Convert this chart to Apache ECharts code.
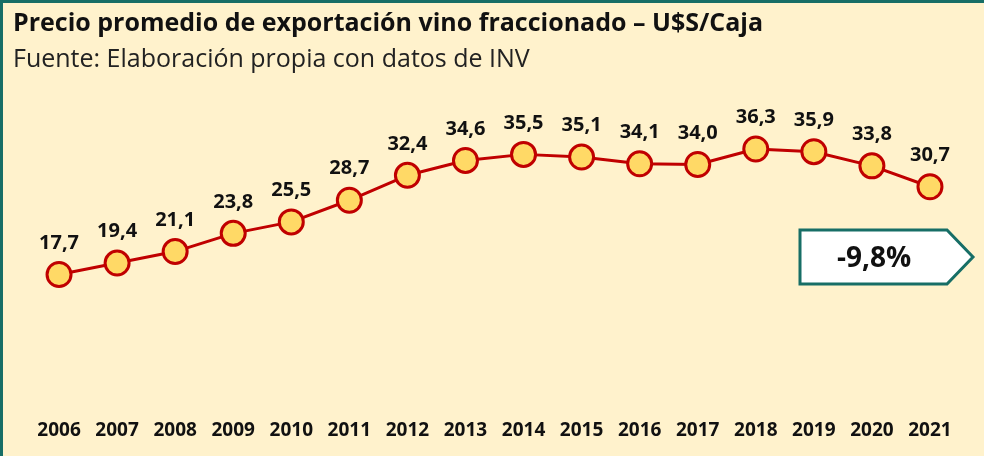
<!DOCTYPE html>
<html>
<head>
<meta charset="utf-8">
<script src="https://cdn.jsdelivr.net/npm/echarts@6/dist/echarts.min.js"></script>
<style>
	html, body { margin: 0; padding: 0; background: #fff2cc; }
	#chart { width: 981px; height: 453px; border-top: 3px solid #176e66; border-left: 3px solid #176e66; background: #fff2cc; }
</style>
</head>
<body>
<div id="chart"></div>
<script>
// datos
const years = ["2006", "2007", "2008", "2009", "2010", "2011", "2012", "2013", "2014", "2015", "2016", "2017", "2018", "2019", "2020", "2021"];
const prices = [17.7, 19.4, 21.1, 23.8, 25.5, 28.7, 32.4, 34.6, 35.5, 35.1, 34.1, 34.0, 36.3, 35.9, 33.8, 30.7];
const variation = "-9,8%";

const font = "'Open Sans', Lato, sans-serif";
const myChart = echarts.init(document.getElementById("chart"));

const option = {
	backgroundColor: "#fff2cc",
	animation: false,
	title: [
		{
			text: "Precio promedio de exportación vino fraccionado – U$S/Caja",
			left: 5,
			top: 3,
			textStyle: { fontFamily: font, fontSize: 25, fontWeight: "bold", color: "#111" }
		},
		{
			text: "Fuente: Elaboración propia con datos de INV",
			left: 5,
			top: 39,
			textStyle: { fontFamily: font, fontSize: 25, fontWeight: "normal", color: "#222" }
		}
	],
	grid: { left: 27, right: 25, top: 121, bottom: 62 },
	xAxis: {
		type: "category",
		data: years,
		boundaryGap: true,
		axisLine: { show: false },
		axisTick: { show: false },
		axisLabel: {
			margin: 27,
			fontFamily: font,
			fontSize: 19,
			fontWeight: "bold",
			color: "#111"
		}
	},
	yAxis: {
		type: "value",
		min: 0,
		max: 40,
		show: false,
		splitLine: { show: false }
	},
	series: [
		{
			type: "line",
			data: prices,
			symbol: "circle",
			symbolSize: 24,
			lineStyle: { color: "#c00000", width: 3 },
			itemStyle: { color: "#ffd966", borderColor: "#c00000", borderWidth: 3 },
			label: {
				show: true,
				position: "top",
				distance: 8,
				fontFamily: font,
				fontSize: 20,
				fontWeight: "bold",
				color: "#111",
				formatter: p => p.value.toFixed(1).replace(".", ",")
			}
		}
	],
	graphic: [
		{
			type: "polygon",
			shape: { points: [[797, 227], [944, 227], [970, 254], [944, 281], [797, 281]] },
			style: { fill: "#ffffff", stroke: "#176e66", lineWidth: 3 }
		},
		{
			type: "text",
			x: 871,
			y: 256,
			style: {
				text: variation,
				fontFamily: font,
				fontSize: 28,
				fontWeight: "bold",
				fill: "#111",
				align: "center",
				verticalAlign: "middle"
			}
		}
	]
};

myChart.setOption(option);
</script>
</body>
</html>
